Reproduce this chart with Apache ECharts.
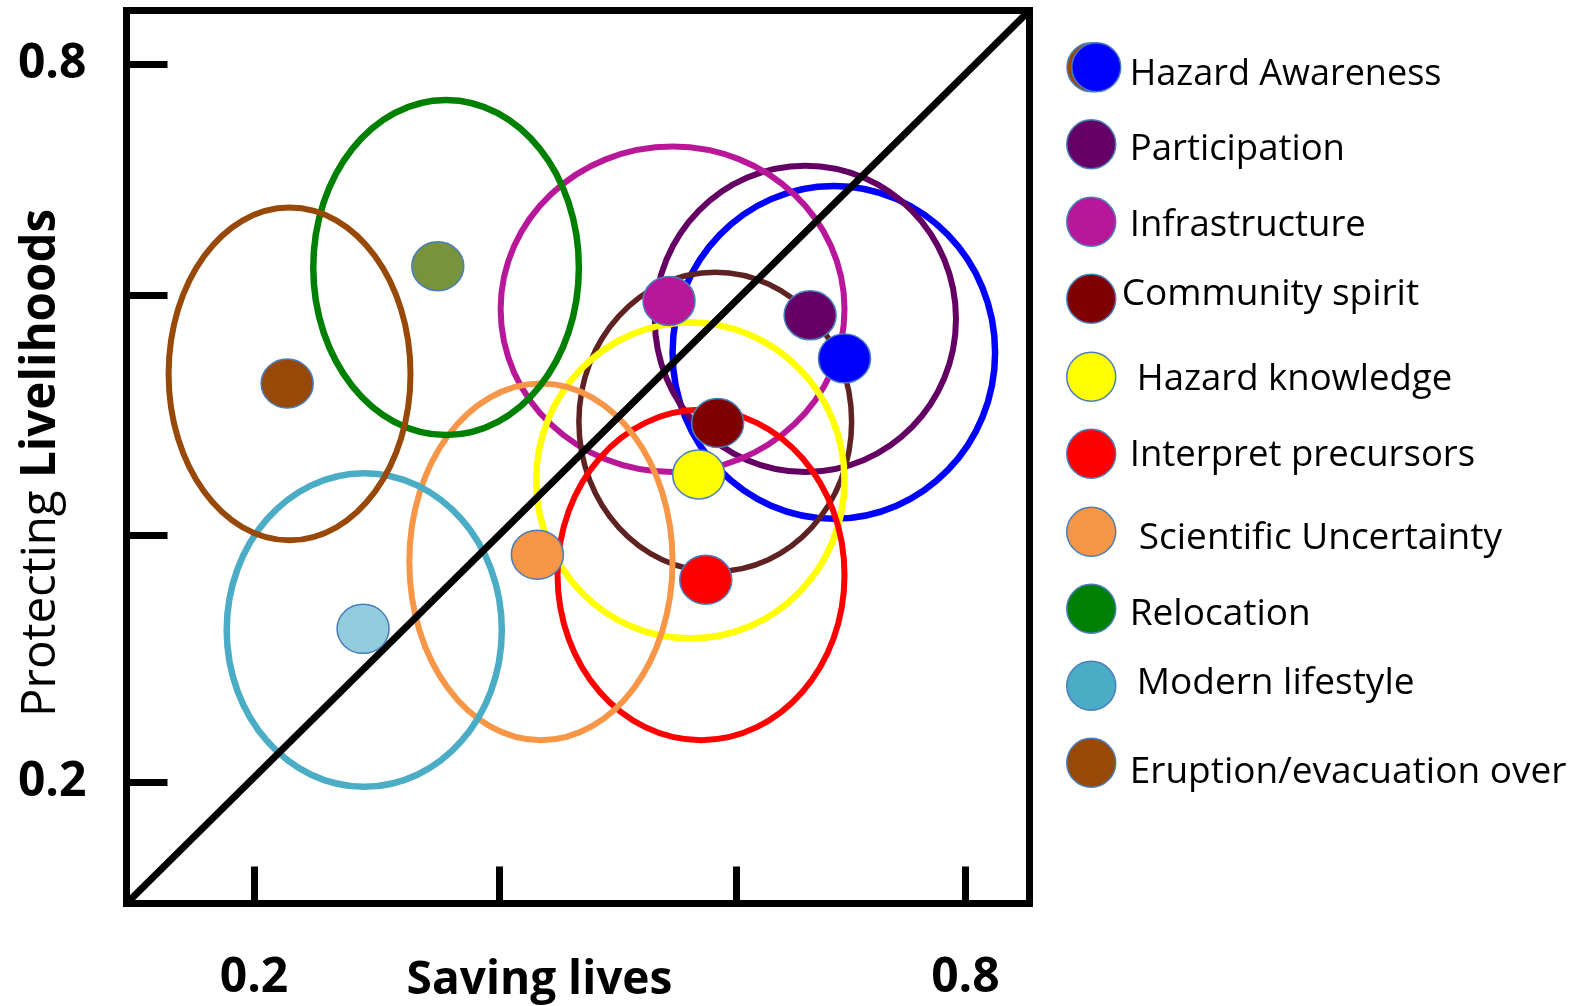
<!DOCTYPE html>
<html><head><meta charset="utf-8">
<script src="https://cdn.jsdelivr.net/npm/echarts@6/dist/echarts.min.js"></script>
<style>html,body{margin:0;padding:0;background:#fff}#c{width:1582px;height:1006px}</style>
</head><body><div id="c"></div>
<script>
// ---- data ----
const categories = ['Hazard Awareness','Participation','Infrastructure','Community spirit','Hazard knowledge','Interpret precursors','Scientific Uncertainty','Relocation','Modern lifestyle','Eruption/evacuation over'];
// dot positions: Saving lives (x), Protecting Livelihoods (y)
const savingLives = [0.698,0.669,0.550,0.591,0.575,0.581,0.439,0.355,0.292,0.228];
const protectingLivelihoods = [0.554,0.590,0.602,0.500,0.457,0.369,0.390,0.631,0.328,0.533];
// spread ellipses: centre and half-widths in axis units
const spreadCentreX = [0.689,0.665,0.553,0.589,0.568,0.577,0.442,0.362,0.293,0.230];
const spreadCentreY = [0.559,0.587,0.595,0.501,0.452,0.373,0.384,0.630,0.327,0.541];
const spreadHalfX = [0.136,0.127,0.145,0.115,0.130,0.121,0.111,0.112,0.116,0.102];
const spreadHalfY = [0.139,0.128,0.136,0.125,0.132,0.138,0.149,0.140,0.131,0.139];
const xRange = [0.0925, 0.854];
const yRange = [0.0985, 0.8447];
const xTickValues = [0.2, 0.407, 0.607, 0.8];
const yTickValues = [0.2, 0.406, 0.607, 0.8];
const xLabelValues = [0.2, 0.8];
const yLabelValues = [0.2, 0.8];

// ---- styles ----
const ringColors = ['#0000ff','#640064','#b9179a','#5e2222','#ffff00','#ff0000','#f79646','#008000','#4bacc6','#984807'];
const dotColors = ['#0000ff','#660066','#b9179a','#800000','#ffff00','#ff0000','#f79646','#77933c','#93cddd','#984807'];
const legendColors = ['#0000ff','#660066','#b9179a','#800000','#ffff00','#ff0000','#f79646','#008000','#4bacc6','#984807'];
const ringWidths = [6.5,6,6,5.5,6.5,6,6,6.5,6.5,6];
const legendLefts = [1071,1066,1066,1066,1066,1066,1066,1066,1066,1066];
const legendTops = [42,119,196.5,273.5,351.5,428.5,506.5,583.5,660.5,737.5];
const legendTextShift = [3,8,8,0,15,8,17,8,15,8];
const legendTextDy = [7,5,4,-4,2.5,2,7,6,-2.5,10];
const legendFontSize = [36,36.5,36.5,37,36.5,36.5,37,37,37,37];
const FONT = 'Open Sans';
const dotPath = 'path://M0 50A50 50 0 1 0 100 50A50 50 0 1 0 0 50Z';

const chart = echarts.init(document.getElementById('c'), null, {renderer:'canvas'});

const series = [];
series.push({
  type: 'custom',
  name: 'spread',
  clip: false,
  z: 2,
  data: categories.map((n,i) => [spreadCentreX[i], spreadCentreY[i], spreadHalfX[i], spreadHalfY[i]]),
  encode: {x: 0, y: 1},
  renderItem: (params, api) => {
    const i = params.dataIndex;
    const c = api.coord([api.value(0), api.value(1)]);
    const e = api.coord([api.value(0) + api.value(2), api.value(1) + api.value(3)]);
    return {
      type: 'ellipse',
      shape: {cx: c[0], cy: c[1], rx: Math.abs(e[0]-c[0]), ry: Math.abs(e[1]-c[1])},
      style: {fill: null, stroke: ringColors[i], lineWidth: ringWidths[i]}
    };
  }
});
series.push({
  type: 'line',
  name: 'diagonal',
  data: [[xRange[0], yRange[0]], [xRange[1], yRange[1]]],
  symbol: 'none',
  clip: false,
  z: 3,
  lineStyle: {color: '#000', width: 7},
  silent: true
});
categories.forEach((n,i) => {
  series.push({
    type: 'scatter',
    name: n,
    z: 5,
    data: [[savingLives[i], protectingLivelihoods[i]]],
    symbol: dotPath,
    symbolSize: [52, 49],
    itemStyle: {color: dotColors[i], borderColor: '#4a7ebb', borderWidth: 1.5, opacity: 1}
  });
});

// small brown disc peeking out behind the first legend marker (as in the source figure)
const legends = [{
  left: 1066, top: legendTops[0], orient: 'vertical', padding: 0, z: 1,
  itemWidth: 51, itemHeight: 49, itemGap: 0, selectedMode: false, icon: dotPath,
  formatter: () => '',
  data: [{name: categories[0], itemStyle: {color: '#984807', borderColor: '#4a7ebb', borderWidth: 1.5}}]
}];
categories.forEach((n,i) => {
  const dy = legendTextDy[i];
  legends.push({
    left: legendLefts[i], top: legendTops[i], orient: 'vertical', padding: 0, z: 2,
    itemWidth: 51, itemHeight: 49, itemGap: 0, selectedMode: false,
    icon: dotPath,
    data: [{name: n, itemStyle: {color: legendColors[i], borderColor: '#4a7ebb', borderWidth: 1.5}}],
    textStyle: {fontFamily: FONT, fontSize: legendFontSize[i], color: '#000',
      padding: [Math.max(0, 2*dy), 0, Math.max(0, -2*dy), legendTextShift[i]],
      rich: {n: {}}}
  });
});

chart.setOption({
  animation: false,
  backgroundColor: '#fff',
  grid: {left: 126.5, top: 10.5, width: 903, height: 893, show: true, borderColor: '#000', borderWidth: 7, backgroundColor: 'transparent'},
  xAxis: {
    type: 'value', min: xRange[0], max: xRange[1],
    axisLine: {show: false}, splitLine: {show: false},
    axisTick: {show: true, inside: true, length: 37, customValues: xTickValues, lineStyle: {color: '#000', width: 7}},
    axisLabel: {customValues: xLabelValues, formatter: v => v.toFixed(1), fontFamily: FONT, fontWeight: 'bold', fontSize: 48, color: '#000', margin: 51}
  },
  yAxis: {
    type: 'value', min: yRange[0], max: yRange[1],
    axisLine: {show: false}, splitLine: {show: false},
    axisTick: {show: true, inside: true, length: 41, customValues: yTickValues, lineStyle: {color: '#000', width: 7}},
    axisLabel: {customValues: yLabelValues, formatter: v => v.toFixed(1), fontFamily: FONT, fontWeight: 'bold', fontSize: 48, color: '#000', margin: 40}
  },
  legend: legends,
  graphic: [
    {type: 'text', x: 539.5, y: 980.5, style: {text: 'Saving lives', fontFamily: FONT, fontWeight: 'bold', fontSize: 46, fill: '#000', align: 'center', verticalAlign: 'middle'}},
    {type: 'text', x: 41.5, y: 463, rotation: Math.PI/2,
     style: {text: '{a|Protecting }{b|Livelihoods}', align: 'center', verticalAlign: 'middle', fill: '#000',
       rich: {a: {fontFamily: FONT, fontSize: 47.5, fontWeight: 'normal', fill: '#000'}, b: {fontFamily: FONT, fontSize: 47.5, fontWeight: 'bold', fill: '#000'}}}}
  ],
  series: series
});
</script>
</body></html>
